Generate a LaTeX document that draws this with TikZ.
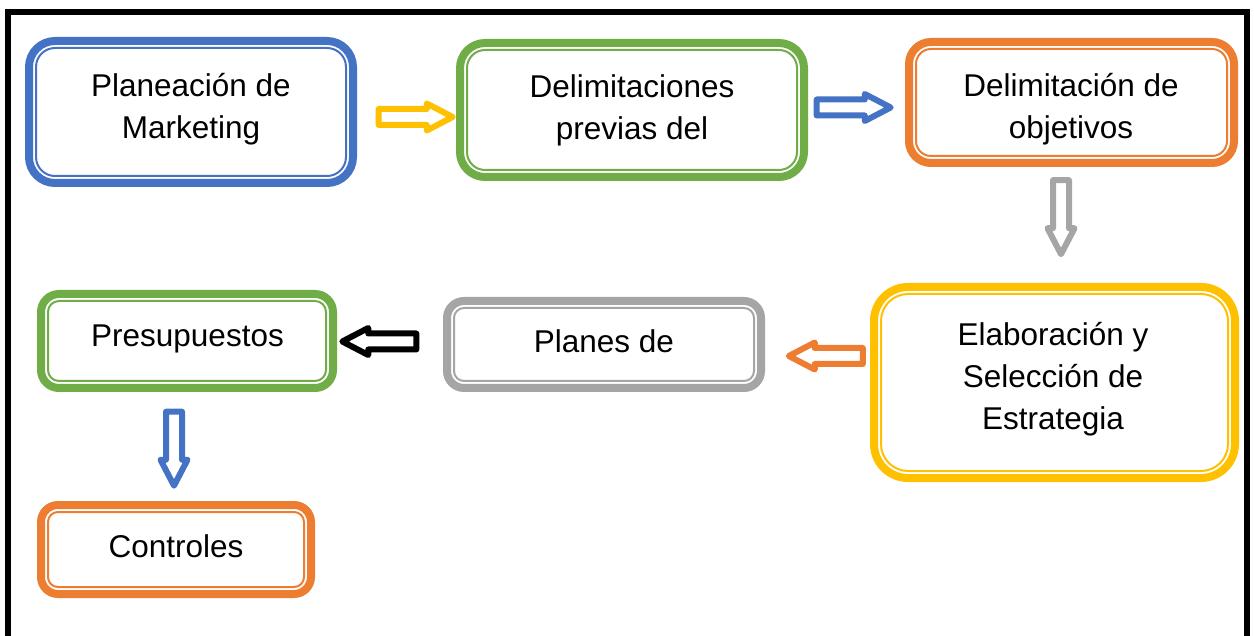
\documentclass[tikz,border=0pt]{standalone}
\usepackage{fontspec}
\setmainfont{Liberation Sans}
\usetikzlibrary{shapes.arrows,calc}
\definecolor{cblue}{HTML}{4472C4}
\definecolor{cgreen}{HTML}{70AD47}
\definecolor{corange}{HTML}{ED7D31}
\definecolor{cgray}{HTML}{A5A5A5}
\definecolor{cyellow}{HTML}{FFC000}
\begin{document}
\begin{tikzpicture}[x=1pt,y=-1pt,
  bx/.style={draw=#1, line width=8pt, outer sep=0pt, inner sep=0pt, fill=white},
  txt/.style={align=center, inner sep=0pt, font=\fontsize{31.5}{42}\selectfont},
  arr/.style={single arrow, draw=#1, fill=white, line width=6pt, line join=round,
    inner xsep=0pt, inner ysep=5pt, minimum width=21pt, minimum height=74pt,
    single arrow head extend=5.5pt, single arrow tip angle=55, outer sep=0pt}]
\useasboundingbox (0,0) rectangle (1254,636);
\fill[white] (0,0) rectangle (1254,636);
\draw[line width=6pt] (8,636) -- (8,12) -- (1247,12) -- (1247,636);

\foreach \n/\c/\xa/\ya/\xb/\yb/\r in {
  b1/cblue/29/41/353/183/26,
  b2/cgreen/460/43/804/177/25,
  b3/corange/909/42/1234/163/22,
  b4/cyellow/874/287/1235/478/34,
  b5/cgray/447/301/761/388/17,
  b6/cgreen/41/294/333/388/18,
  b7/corange/41/505/311/594/17}{
  \pgfmathsetmacro\w{\xb-\xa}
  \pgfmathsetmacro\h{\yb-\ya}
  \pgfmathsetmacro\ri{\r-7}
  \node[bx=\c, minimum width=\w pt, minimum height=\h pt, rounded corners=\r pt]
    (\n) at ({(\xa+\xb)/2},{(\ya+\yb)/2}) {};
  \draw[\c, line width=2pt, rounded corners=\ri pt]
    ($(\n.south west)+(7,-7)$) rectangle ($(\n.north east)+(-7,7)$);
}

\node[txt] (t1) at (191,109.6) {\strut Planeación de\\\strut Marketing};
\node[txt] (t2) at (632,110.6) {\strut Delimitaciones\\\strut previas del};
\node[txt] (t3) at (1071,109.6) {\strut Delimitación de\\\strut objetivos};
\node[txt] (t4) at (1053,378.6) {\strut Elaboración y\\\strut Selección de\\\strut Estrategia};
\node[txt] (t5) at (604,344.6) {\strut Planes de};
\node[txt] (t6) at (187.5,338.6) {\strut Presupuestos};
\node[txt] (t7) at (176,548.6) {\strut Controles};

\node[arr=cyellow] (a1) at (408,117) {};
\node[arr=cblue] (a2) at (846,107.5) {};
\node[arr=cgray, rotate=270] (a3) at (1061,209.5) {};
\node[arr=corange, rotate=180] (a4) at (833.5,356) {};
\node[arr=black, rotate=180] (a5) at (387,341.5) {};
\node[arr=cblue, rotate=270] (a6) at (174,441) {};
\end{tikzpicture}
\end{document}
